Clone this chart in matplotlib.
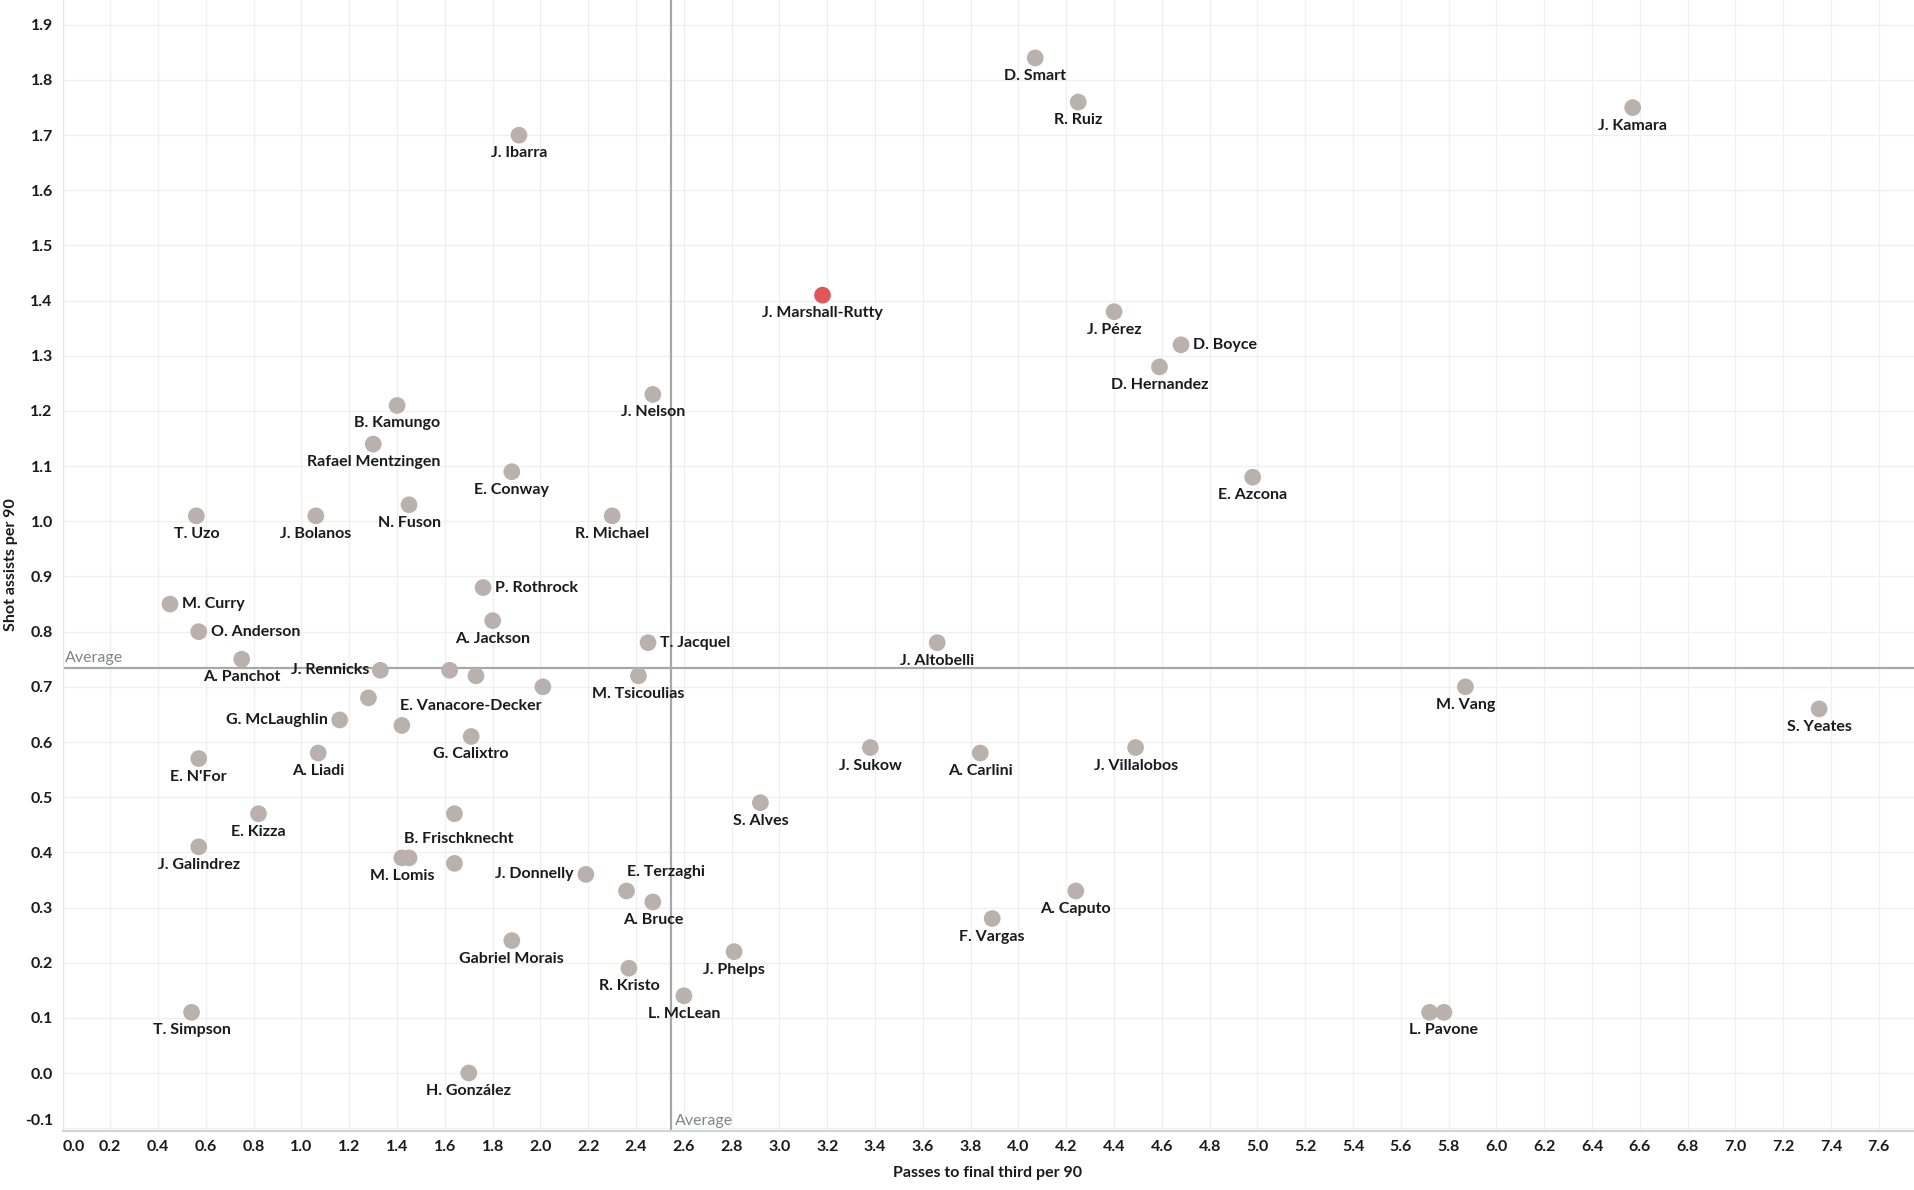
import matplotlib
matplotlib.use("Agg")
import matplotlib.pyplot as plt

plt.rcParams['font.family'] = ['Lato', 'DejaVu Sans']

# player data
names = ["D. Smart", "R. Ruiz", "J. Kamara", "J. Ibarra", "J. Marshall-Rutty",
         "J. Pérez", "D. Boyce", "D. Hernandez", "J. Nelson", "B. Kamungo",
         "Rafael Mentzingen", "E. Conway", "E. Azcona", "N. Fuson", "T. Uzo",
         "J. Bolanos", "R. Michael", "P. Rothrock", "M. Curry", "A. Jackson",
         "O. Anderson", "T. Jacquel", "J. Altobelli", "A. Panchot", "J. Rennicks",
         "", "E. Vanacore-Decker", "M. Tsicoulias", "", "M. Vang",
         "", "G. McLaughlin", "", "G. Calixtro", "S. Yeates",
         "E. N'For", "A. Liadi", "J. Sukow", "A. Carlini", "J. Villalobos",
         "S. Alves", "E. Kizza", "B. Frischknecht", "J. Galindrez", "M. Lomis",
         "", "", "J. Donnelly", "E. Terzaghi", "A. Bruce",
         "A. Caputo", "F. Vargas", "Gabriel Morais", "J. Phelps", "R. Kristo",
         "L. McLean", "T. Simpson", "", "L. Pavone", "H. González"]
passes = [4.07, 4.25, 6.57, 1.91, 3.18,
          4.40, 4.68, 4.59, 2.47, 1.40,
          1.30, 1.88, 4.98, 1.45, 0.56,
          1.06, 2.30, 1.76, 0.45, 1.80,
          0.57, 2.45, 3.66, 0.75, 1.33,
          1.62, 1.73, 2.41, 2.01, 5.87,
          1.28, 1.16, 1.42, 1.71, 7.35,
          0.57, 1.07, 3.38, 3.84, 4.49,
          2.92, 0.82, 1.64, 0.57, 1.42,
          1.45, 1.64, 2.19, 2.36, 2.47,
          4.24, 3.89, 1.88, 2.81, 2.37,
          2.60, 0.54, 5.72, 5.78, 1.70]
shot_assists = [1.84, 1.76, 1.75, 1.70, 1.41,
                1.38, 1.32, 1.28, 1.23, 1.21,
                1.14, 1.09, 1.08, 1.03, 1.01,
                1.01, 1.01, 0.88, 0.85, 0.82,
                0.80, 0.78, 0.78, 0.75, 0.73,
                0.73, 0.72, 0.72, 0.70, 0.70,
                0.68, 0.64, 0.63, 0.61, 0.66,
                0.57, 0.58, 0.59, 0.58, 0.59,
                0.49, 0.47, 0.47, 0.41, 0.39,
                0.39, 0.38, 0.36, 0.33, 0.31,
                0.33, 0.28, 0.24, 0.22, 0.19,
                0.14, 0.11, 0.11, 0.11, 0.00]
highlight = "J. Marshall-Rutty"
avg_passes = 2.545
avg_shot_assists = 0.734

x_ticks = [round(i * 0.2, 1) for i in range(39)]
y_ticks = [round(-0.1 + i * 0.1, 1) for i in range(21)]

# label placement: (dx px, dy px, ha, va); default is centred below
below = (0, -18, 'center', 'center')
placement = {
    "D. Boyce": (12, 0, 'left', 'center'),
    "P. Rothrock": (12, 0, 'left', 'center'),
    "M. Curry": (12, 0, 'left', 'center'),
    "O. Anderson": (12, 0, 'left', 'center'),
    "T. Jacquel": (12, 0, 'left', 'center'),
    "J. Rennicks": (-11, 0, 'right', 'center'),
    "G. McLaughlin": (-12, 0, 'right', 'center'),
    "J. Donnelly": (-12, 0, 'right', 'center'),
    "E. Terzaghi": (0, 19, 'left', 'center'),
    "E. Vanacore-Decker": (-5, -30, 'center', 'center'),
    "B. Frischknecht": (4, -25, 'center', 'center'),
}

fs = 11.5
ink = "#1a1a1a"

fig = plt.figure(figsize=(19.14, 11.9), dpi=100)
ax = fig.add_axes([62.5 / 1914, 59.4 / 1190, 1 - 62.5 / 1914, 1 - 59.4 / 1190])

grey = "#bab1ad"
red = "#e05759"
colors = [red if n == highlight else grey for n in names]
ax.scatter(passes, shot_assists, s=145, c=colors, linewidths=0, zorder=3)

ax.axvline(avg_passes, color="#a8a8a8", lw=1.6, zorder=2)
ax.axhline(avg_shot_assists, color="#a8a8a8", lw=1.6, zorder=2)
ax.annotate("Average", (0, avg_shot_assists), xycoords=('axes fraction', 'data'),
            xytext=(2, 3), textcoords='offset pixels', ha='left', va='bottom',
            fontsize=fs, color="#7e8786")
ax.annotate("Average", (avg_passes, 0), xycoords=('data', 'axes fraction'),
            xytext=(4, 3), textcoords='offset pixels', ha='left', va='bottom',
            fontsize=fs, color="#7e8786")

for n, px, py in zip(names, passes, shot_assists):
    if not n:
        continue
    dx, dy, ha, va = placement.get(n, below)
    ax.annotate(n, (px, py), xytext=(dx, dy), textcoords='offset pixels',
                ha=ha, va=va, fontsize=fs, fontweight='bold', color=ink, zorder=4)

ax.set_xlim(0, 7.747)
ax.set_ylim(-0.1044, 1.945)
ax.set_xticks(x_ticks)
ax.set_yticks(y_ticks)
ax.set_xticklabels([f"{t:.1f}" for t in x_ticks])
ax.set_yticklabels([f"{t:.1f}" for t in y_ticks])
ax.get_xticklabels()[0].set_horizontalalignment('left')
ax.get_yticklabels()[0].set_verticalalignment('bottom')
ax.tick_params(length=0, labelsize=fs, pad=7)
for lab in ax.get_xticklabels() + ax.get_yticklabels():
    lab.set_fontweight('bold')
    lab.set_color(ink)

ax.grid(True, color="#f0f0f0", lw=1)
ax.set_axisbelow(True)
for side in ['top', 'right']:
    ax.spines[side].set_visible(False)
ax.spines['left'].set_color("#e6e6e6")
ax.spines['bottom'].set_color("#d2d2d2")
ax.spines['bottom'].set_linewidth(1.5)

fig.text(988 / 1914, 1 - 1173 / 1190, "Passes to final third per 90", ha='center', va='center',
         fontsize=fs, fontweight='bold', color=ink)
fig.text(11 / 1914, 1 - 565 / 1190, "Shot assists per 90", ha='center', va='center',
         rotation=90, fontsize=fs, fontweight='bold', color=ink)

fig.savefig("out.png", dpi=100)
